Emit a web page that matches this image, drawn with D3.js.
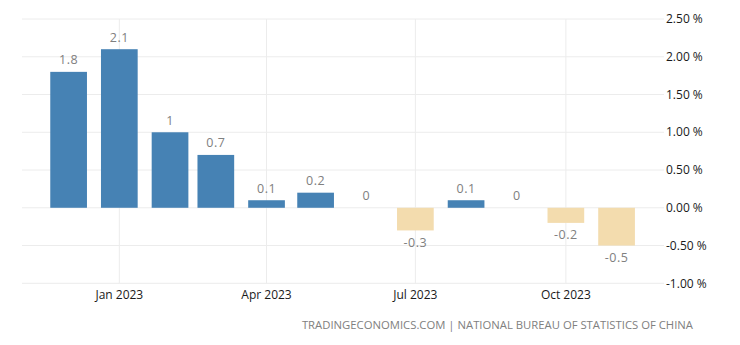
<!DOCTYPE html>
<html>
<head>
<meta charset="utf-8">
<script src="https://cdn.jsdelivr.net/npm/d3@7"></script>
<style>
  html, body { margin: 0; padding: 0; background: #fff; }
  svg { display: block; }
  text { font-family: "Open Sans", "Noto Sans", sans-serif; }
</style>
</head>
<body>
<svg id="chart" width="740" height="345"></svg>
<script>
// ---- data ----
const months = ["2022-12", "2023-01", "2023-02", "2023-03", "2023-04", "2023-05",
                "2023-06", "2023-07", "2023-08", "2023-09", "2023-10", "2023-11"];
const values = [1.8, 2.1, 1, 0.7, 0.1, 0.2, 0, -0.3, 0.1, 0, -0.2, -0.5];
const xTickDates = ["2023-01", "2023-04", "2023-07", "2023-10"];
const xTickLabels = ["Jan 2023", "Apr 2023", "Jul 2023", "Oct 2023"];
const yTicks = [2.5, 2.0, 1.5, 1.0, 0.5, 0.0, -0.5, -1.0];
const source = "TRADINGECONOMICS.COM | NATIONAL BUREAU OF STATISTICS OF CHINA";

(function () {
const parse = d3.timeParse("%Y-%m");
const data = months.map((m, i) => ({ date: parse(m), value: values[i] }));

const svg = d3.select("#chart");
const mLeft = 22, mRight = 664, mTop = 19, mBottom = 283.3;

const x = d3.scaleTime()
  .domain([new Date(2022, 10, 2, 12), new Date(2023, 10, 30)])
  .range([mLeft, mRight]);
const y = d3.scaleLinear().domain([-1, 2.5]).range([mBottom, mTop]);

const barW = 36.7;

// horizontal grid
svg.append("g").selectAll("line").data(yTicks).join("line")
  .attr("x1", mLeft).attr("x2", mRight)
  .attr("y1", d => y(d)).attr("y2", d => y(d))
  .attr("stroke", "#ececec").attr("stroke-width", 1);

// vertical grid
svg.append("g").selectAll("line").data(xTickDates).join("line")
  .attr("x1", d => x(parse(d))).attr("x2", d => x(parse(d)))
  .attr("y1", mTop).attr("y2", mBottom)
  .attr("stroke", "#ececec").attr("stroke-width", 1);

// bars
svg.append("g").selectAll("rect").data(data).join("rect")
  .attr("x", d => x(d.date) - barW / 2)
  .attr("width", barW)
  .attr("y", d => y(Math.max(0, d.value)))
  .attr("height", d => Math.abs(y(d.value) - y(0)))
  .attr("fill", d => d.value < 0 ? "#f3dcae" : "#4682b4");

// value labels
svg.append("g").selectAll("text").data(data).join("text")
  .attr("x", d => x(d.date))
  .attr("y", d => d.value < 0 ? y(d.value) + 12 : y(d.value) - 12)
  .attr("dy", "0.35em")
  .attr("text-anchor", "middle")
  .attr("font-size", 12.5)
  .attr("fill", "#808080")
  .attr("letter-spacing", 0.5)
  .text(d => String(d.value));

// y axis labels (right)
svg.append("g").selectAll("text").data(yTicks).join("text")
  .attr("x", 666)
  .attr("y", d => y(d))
  .attr("dy", "0.35em")
  .attr("font-size", 12)
  .attr("fill", "#1a1a1a")
  .text(d => d.toFixed(2) + " %");

// x axis labels
svg.append("g").selectAll("text").data(xTickDates).join("text")
  .attr("x", d => x(parse(d)))
  .attr("y", 295)
  .attr("dy", "0.35em")
  .attr("text-anchor", "middle")
  .attr("font-size", 12)
  .attr("fill", "#1a1a1a")
  .text((d, i) => xTickLabels[i]);

// source
svg.append("text")
  .attr("x", 693).attr("y", 325)
  .attr("dy", "0.35em")
  .attr("text-anchor", "end")
  .attr("font-size", 11.3)
  .attr("fill", "#808080")
  .text(source);
})();
</script>
</body>
</html>
